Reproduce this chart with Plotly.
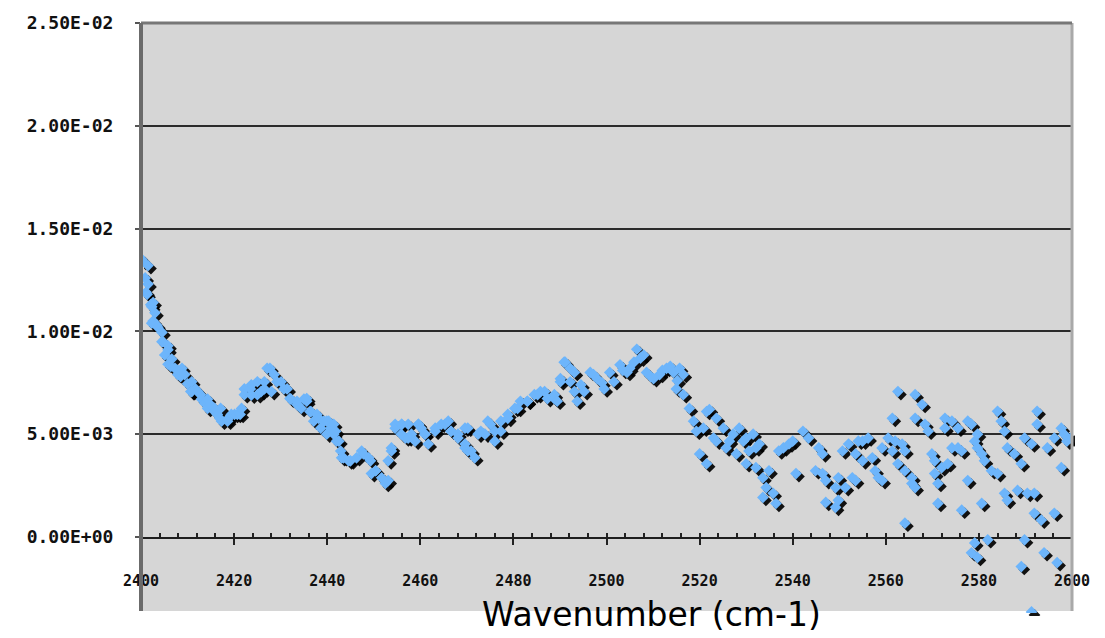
import plotly.graph_objects as go

# ---- data (wavenumber in cm-1, absorbance in units of 1e-3) ----
wn_left = [2400.2, 2400.4, 2400.9, 2401.1, 2401.3, 2401.5, 2401.5, 2402.1, 2402.3, 2402.3,
           2402.6, 2402.6, 2403.0, 2403.4, 2403.6, 2404.5, 2404.5, 2404.7, 2405.1, 2405.8,
           2405.8, 2405.8, 2406.4, 2406.6, 2407.3, 2407.9, 2407.9, 2408.5, 2408.8, 2409.4,
           2410.0, 2410.7, 2410.9, 2410.9, 2411.7, 2412.2, 2412.8, 2413.0, 2413.7, 2414.3,
           2414.3, 2414.9, 2415.8, 2415.8, 2416.4, 2416.9, 2417.1, 2417.3, 2418.6, 2418.6,
           2419.4, 2420.1, 2420.7, 2421.3, 2421.6, 2422.2, 2422.2, 2423.5, 2423.7, 2423.7,
           2425.0, 2425.0, 2425.8, 2426.5, 2426.5, 2427.1, 2427.7, 2428.0, 2428.6, 2429.2,
           2430.1, 2430.7, 2431.4, 2432.0, 2432.2, 2433.5, 2433.5, 2434.4, 2435.0, 2435.6,
           2435.6, 2436.3, 2436.5, 2437.1, 2437.8, 2438.2, 2438.6, 2439.3, 2439.9, 2439.9,
           2440.3, 2440.8, 2441.4, 2441.4, 2441.8, 2442.0, 2442.5, 2442.9, 2443.1, 2443.5,
           2444.6, 2445.0, 2446.3, 2447.4, 2447.8, 2448.9, 2449.3, 2449.5, 2450.4, 2450.4,
           2451.7, 2452.5, 2453.1, 2453.1, 2453.8, 2453.8, 2454.6, 2454.6, 2455.9, 2456.0,
           2456.0, 2456.8, 2457.4, 2457.4, 2458.1, 2458.9, 2459.6, 2459.6, 2460.2, 2461.0,
           2461.0, 2461.7, 2463.2, 2463.2, 2464.5, 2465.3, 2466.0, 2466.6, 2466.6, 2468.1,
           2468.1, 2469.6, 2469.6, 2469.6, 2470.2, 2470.2, 2470.9, 2471.7, 2472.4, 2473.0,
           2473.9, 2474.5, 2475.1, 2476.0, 2476.0, 2477.3, 2477.3, 2478.8, 2478.8, 2480.3,
           2480.9, 2481.5, 2483.0, 2483.0, 2484.5, 2485.2, 2485.8, 2486.7, 2487.3, 2488.8,
           2488.8, 2489.4, 2490.1, 2490.1, 2490.9, 2491.1, 2492.2, 2492.2, 2493.1, 2493.1,
           2493.7, 2494.5, 2495.2, 2496.5, 2497.2, 2498.0, 2499.0, 2499.5, 2500.7, 2501.6,
           2502.9, 2503.5, 2504.4, 2505.0, 2505.9, 2506.5, 2507.3, 2508.0, 2508.6, 2509.5,
           2510.1, 2511.4, 2512.0, 2512.9, 2513.7, 2514.4, 2515.0, 2515.2, 2515.7, 2516.5,
           2516.5, 2517.8, 2518.7, 2519.3]
abs_left = [13.5, 13.4, 12.6, 11.9, 11.8, 13.2, 12.3, 11.3, 11.2, 10.4,
            11.4, 10.5, 10.9, 10.3, 10.2, 9.95, 9.5, 9.5, 8.85, 9.3,
            8.4, 9.1, 8.3, 8.65, 8.2, 7.9, 8.1, 7.8, 8.2, 7.9,
            7.45, 7.07, 7.55, 7.07, 7.2, 7.07, 6.92, 6.7, 6.5, 6.7,
            6.25, 6.44, 6.25, 6.1, 5.96, 5.77, 6.25, 5.63, 5.63, 5.72,
            5.96, 5.96, 5.96, 5.96, 6.25, 7.2, 6.92, 7.2, 7.4, 6.9,
            7.55, 6.92, 7.07, 7.55, 7.2, 8.2, 8.2, 7.07, 7.9, 7.55,
            7.55, 7.2, 7.2, 6.73, 6.7, 6.6, 6.44, 6.25, 6.7, 6.6,
            6.73, 6.1, 6.1, 5.63, 5.96, 5.77, 5.29, 5.63, 5.0, 5.63,
            5.63, 5.29, 5.0, 5.48, 5.14, 4.66, 4.66, 4.18, 3.85, 3.85,
            3.7, 3.7, 3.85, 4.18, 4.04, 3.85, 3.7, 3.08, 3.22, 3.22,
            2.88, 2.6, 3.7, 2.74, 4.18, 4.33, 5.29, 5.48, 5.0, 5.48,
            5.48, 4.81, 5.48, 4.81, 5.0, 4.66, 5.48, 5.48, 5.29, 5.0,
            5.0, 4.52, 5.14, 5.29, 5.48, 5.48, 5.63, 5.14, 5.14, 5.0,
            4.81, 5.29, 4.52, 4.33, 4.18, 5.29, 4.18, 3.85, 5.0, 5.14,
            5.0, 5.63, 5.48, 5.14, 4.66, 5.63, 5.14, 5.96, 5.77, 6.25,
            6.25, 6.6, 6.6, 6.6, 6.92, 6.92, 7.07, 7.07, 6.73, 6.92,
            6.73, 6.6, 7.55, 7.7, 8.5, 8.5, 8.2, 7.55, 7.07, 8.0,
            6.6, 7.4, 7.07, 8.0, 7.9, 7.7, 7.5, 7.2, 8.0, 7.55,
            8.37, 8.1, 8.0, 8.2, 8.5, 9.13, 8.7, 8.85, 8.0, 7.8,
            7.7, 7.9, 8.1, 8.2, 8.3, 8.0, 7.2, 7.6, 8.2, 7.9,
            6.92, 6.25, 5.63, 5.14]

wn_right = [2520.0, 2520.8, 2521.5, 2521.5, 2522.1, 2523.0, 2523.6, 2523.6, 2525.1, 2525.7,
            2526.4, 2527.2, 2527.9, 2528.5, 2529.4, 2530.0, 2530.0, 2530.6, 2531.5, 2532.1,
            2532.1, 2532.8, 2533.6, 2533.6, 2534.3, 2534.9, 2535.8, 2536.4, 2537.0, 2538.0,
            2539.2, 2540.7, 2540.0, 2542.2, 2543.4, 2544.9, 2545.6, 2546.4, 2547.1, 2547.1,
            2546.4, 2549.2, 2549.2, 2549.8, 2549.8, 2550.7, 2551.3, 2552.0, 2552.8, 2553.5,
            2553.5, 2554.1, 2555.0, 2555.0, 2556.2, 2557.1, 2557.7, 2558.4, 2559.2, 2559.2,
            2560.5, 2561.4, 2561.4, 2562.0, 2562.6, 2562.6, 2563.5, 2564.1, 2564.1, 2564.1,
            2565.6, 2565.6, 2566.3, 2566.3, 2566.3, 2567.8, 2568.4, 2569.1, 2569.9, 2570.5,
            2570.5, 2571.2, 2571.2, 2572.0, 2572.7, 2572.7, 2573.3, 2574.2, 2574.2, 2575.5,
            2575.5, 2576.3, 2576.3, 2577.6, 2577.6, 2578.4, 2578.4, 2579.1, 2579.1, 2579.7,
            2579.7, 2579.7, 2580.6, 2580.6, 2581.2, 2581.9, 2582.7, 2584.0, 2584.0, 2584.8,
            2585.5, 2585.5, 2586.1, 2586.1, 2587.6, 2588.3, 2589.1, 2589.1, 2589.8, 2589.8,
            2590.4, 2591.3, 2591.3, 2591.9, 2591.9, 2592.5, 2592.5, 2593.4, 2594.0, 2594.7,
            2596.2, 2596.2, 2596.8, 2597.7, 2597.7, 2598.3, 2598.9, 2599.8]
abs_right = [4.04, 5.29, 3.56, 6.10, 6.20, 4.81, 5.77, 4.66, 5.29, 4.33,
             4.66, 5.00, 4.04, 5.29, 4.66, 4.81, 3.56, 4.18, 5.00, 3.37,
             4.33, 4.52, 2.88, 1.92, 2.40, 3.22, 2.12, 1.63, 4.18, 4.33,
             4.52, 3.08, 4.66, 5.14, 4.81, 3.22, 4.33, 4.04, 2.74, 1.68,
             3.08, 2.40, 1.44, 2.88, 1.78, 4.18, 2.40, 4.52, 2.88, 4.04,
             2.74, 4.66, 4.66, 3.70, 4.81, 3.85, 3.22, 2.88, 4.33, 2.74,
             4.81, 4.18, 5.77, 4.66, 3.56, 7.07, 4.52, 4.18, 3.22, 0.67,
             2.88, 2.60, 2.40, 6.92, 5.77, 6.44, 5.48, 5.14, 4.04, 3.70,
             3.08, 2.60, 1.63, 3.37, 5.77, 5.29, 3.56, 5.63, 4.33, 4.33,
             5.29, 4.18, 1.30, 5.63, 2.74, 5.48, -0.77, 4.66, -0.29, 4.33,
             5.00, -1.00, 4.04, 1.63, 3.70, -0.14, 3.22, 3.08, 6.11, 5.63,
             5.14, 2.12, 4.33, 1.78, 4.04, 2.26, 3.56, -1.44, 4.81, -0.14,
             2.12, 4.52, -3.65, 2.12, 1.15, 6.11, 5.48, 0.82, -0.77, 4.33,
             4.81, 1.15, -1.25, 5.29, 3.37, 5.00, 4.66, 4.81]

wavenumber = wn_left + wn_right
absorbance = [v * 1e-3 for v in abs_left + abs_right]

y_tickvals = [0, 0.005, 0.010, 0.015, 0.020, 0.025]
y_ticktext = ["0.00E+00", "5.00E-03", "1.00E-02", "1.50E-02", "2.00E-02", "2.50E-02"]
x_tickvals = [2400, 2420, 2440, 2460, 2480, 2500, 2520, 2540, 2560, 2580, 2600]

# ---- geometry (pixels) ----
L, R, T, B = 141, 24, 17, 21
W = 1105 - L - R   # 940
H = 638 - T - B    # 600
sh = 3             # shadow offset
y_zero_px, y_top_px, gray_bot_px = 537, 17, 612
xr = (W - sh) / W
ax_bottom = (638 - B - y_zero_px) / H            # domain bottom of visible axes
data_lo = -0.025 * ((638 - B - sh) - y_zero_px) / (y_zero_px - y_top_px)
gray_bottom = (638 - B - gray_bot_px) / H

fig = go.Figure()
# visible axes (no marks)
fig.add_trace(go.Scatter(x=[], y=[], xaxis="x", yaxis="y", showlegend=False))
# shadow
fig.add_trace(go.Scatter(
    x=wavenumber, y=absorbance, mode="markers", xaxis="x2", yaxis="y2",
    marker=dict(symbol="diamond", size=9, color="rgba(0,0,0,0.92)", line=dict(width=0)),
    hoverinfo="skip", showlegend=False))
# main series
fig.add_trace(go.Scatter(
    x=wavenumber, y=absorbance, mode="markers", xaxis="x3", yaxis="y3",
    marker=dict(symbol="diamond", size=9, color="#6db5fb", line=dict(width=0)),
    showlegend=False))

fig.update_layout(
    width=1105, height=638,
    margin=dict(l=L, r=R, t=T, b=B, pad=0),
    paper_bgcolor="white", plot_bgcolor="rgba(0,0,0,0)",
    showlegend=False,
    xaxis=dict(domain=[0, xr], range=[2400, 2600], anchor="y",
               tickvals=x_tickvals, ticktext=[str(v) for v in x_tickvals],
               showgrid=False, zeroline=False,
               showline=True, linecolor="#1e1e1e", linewidth=2,
               ticks="outside", ticklen=6, tickwidth=2, tickcolor="#222",
               minor=dict(dtick=4, tick0=2400, ticks="inside", ticklen=4, tickwidth=2, tickcolor="#222"),
               ticklabelstandoff=23,
               tickfont=dict(family="DejaVu Sans Mono", size=15, color="#111", weight="bold")),
    yaxis=dict(domain=[ax_bottom, 1], range=[0, 0.025], anchor="x",
               tickvals=y_tickvals, ticktext=y_ticktext,
               showgrid=True, gridcolor="#2b2b2b", gridwidth=2,
               zeroline=False, showline=False,
               ticks="outside", ticklen=5, tickwidth=2, tickcolor="#555",
               ticklabelstandoff=18,
               tickfont=dict(family="DejaVu Sans Mono", size=18, color="#111", weight="bold")),
    xaxis2=dict(domain=[sh / W, 1], range=[2400, 2600], anchor="y2", visible=False),
    yaxis2=dict(domain=[0, 1 - sh / H], range=[data_lo, 0.025], anchor="x2", visible=False),
    xaxis3=dict(domain=[0, xr], range=[2400, 2600], anchor="y3", visible=False),
    yaxis3=dict(domain=[sh / H, 1], range=[data_lo, 0.025], anchor="x3", visible=False),
    shapes=[
        dict(type="rect", xref="paper", yref="paper", x0=0, x1=xr, y0=gray_bottom, y1=1,
             fillcolor="#d6d6d6", line=dict(width=0), layer="below"),
        dict(type="line", xref="paper", yref="paper", x0=xr, x1=xr, y0=gray_bottom, y1=1,
             line=dict(color="#a9a9a9", width=3), layer="above"),
        dict(type="line", xref="paper", yref="paper", x0=0, x1=xr, y0=1, y1=1,
             line=dict(color="#777777", width=3), layer="above"),
        dict(type="line", xref="paper", yref="paper", x0=0, x1=0, y0=gray_bottom, y1=1,
             line=dict(color="#6b6b6b", width=4), layer="above"),
    ],
    annotations=[
        dict(text="Wavenumber (cm-1)", xref="paper", yref="paper",
             x=(655 - L) / W, y=(638 - B - 615) / H, xanchor="center", yanchor="middle",
             showarrow=False, font=dict(family="DejaVu Sans", size=33, color="#000")),
    ],
)

fig.write_html("out.html")
